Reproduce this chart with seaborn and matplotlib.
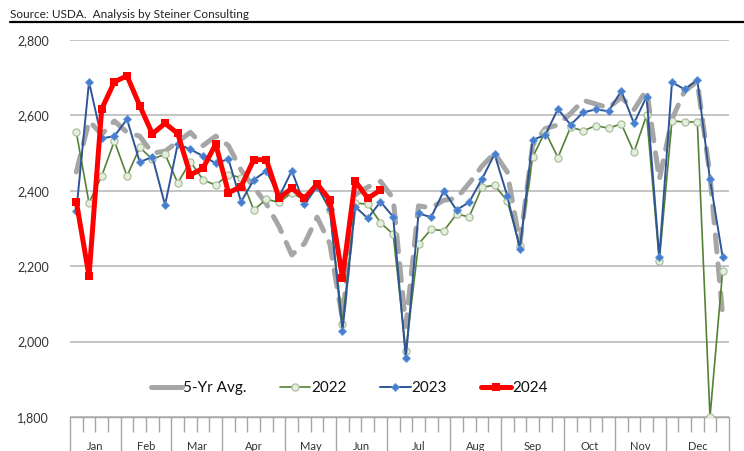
import numpy as np
import pandas as pd
import matplotlib
matplotlib.use("Agg")
import matplotlib.pyplot as plt
from matplotlib.lines import Line2D
import seaborn as sns

# ---------------- data ----------------
months = ["Jan", "Feb", "Mar", "Apr", "May", "Jun", "Jul", "Aug", "Sep", "Oct", "Nov", "Dec"]
weeks_per_month = [4, 4, 4, 5, 4, 4, 5, 4, 5, 4, 4, 5]

avg5 = [2450, 2585, 2550, 2585, 2555, 2545, 2500, 2505, 2530, 2555, 2520, 2545, 2520,
        2455, 2410, 2365, 2305, 2230, 2260, 2330, 2260, 2060, 2390, 2410, 2425, 2380,
        2040, 2360, 2355, 2375, 2380, 2420, 2465, 2500, 2450, 2260, 2520, 2565, 2575,
        2605, 2640, 2630, 2620, 2648, 2615, 2668, 2430, 2590, 2665, 2690, 2440, 2070]

y2022 = [2555, 2368, 2439, 2532, 2439, 2515, 2484, 2497, 2421, 2477, 2429, 2415, 2443,
         2435, 2349, 2378, 2369, 2395, 2375, 2413, 2349, 2048, 2367, 2365, 2315, 2285,
         1976, 2259, 2298, 2294, 2338, 2331, 2409, 2415, 2373, 2254, 2489, 2557, 2488,
         2569, 2559, 2573, 2566, 2578, 2502, 2601, 2214, 2586, 2582, 2583, 1800, 2188]

y2023 = [2347, 2689, 2539, 2545, 2590, 2476, 2490, 2362, 2524, 2510, 2492, 2473, 2484,
         2371, 2429, 2453, 2384, 2453, 2364, 2411, 2353, 2027, 2358, 2327, 2371, 2331,
         1956, 2340, 2330, 2400, 2349, 2370, 2431, 2497, 2387, 2246, 2535, 2548, 2617,
         2575, 2608, 2616, 2611, 2665, 2579, 2650, 2224, 2688, 2669, 2694, 2430, 2224]

y2024 = [2371, 2174, 2617, 2689, 2705, 2626, 2551, 2579, 2552, 2442, 2460, 2524, 2395,
         2411, 2483, 2482, 2380, 2407, 2380, 2418, 2376, 2170, 2426, 2380, 2402]

y_ticks = [1800, 2000, 2200, 2400, 2600, 2800]
y_tick_labels = ["1,800", "2,000", "2,200", "2,400", "2,600", "2,800"]

n_weeks = sum(weeks_per_month)
week_pos = np.arange(n_weeks) + 0.5

df = pd.DataFrame({"week": week_pos, "avg5": avg5, "y2022": y2022, "y2023": y2023})
df24 = pd.DataFrame({"week": week_pos[:len(y2024)], "y2024": y2024})

# ---------------- style ----------------
sns.set_theme(style="white")
plt.rcParams["font.family"] = ["Lato", "DejaVu Sans"]

fig = plt.figure(figsize=(7.44, 4.51), dpi=100)
ax = fig.add_axes([70 / 744, 1 - 417 / 451, 659 / 744, 377 / 451])

sns.lineplot(data=df, x="week", y="avg5", ax=ax, color="#A6A6A6", linewidth=3.6,
             linestyle=(0, (3.4, 2.4)), dash_capstyle="round", label="5-Yr Avg.", zorder=2)
sns.lineplot(data=df, x="week", y="y2022", ax=ax, color="#548235", linewidth=1.2,
             marker="o", markersize=5.2, markerfacecolor="#E2EFDA",
             markeredgecolor="#A8B89A", markeredgewidth=0.8, label="2022", zorder=3)
sns.lineplot(data=df, x="week", y="y2023", ax=ax, color="#2F5597", linewidth=1.4,
             marker="D", markersize=3.6, markerfacecolor="#4A7BD0",
             markeredgecolor="#5B9BD5", markeredgewidth=0.6, label="2023", zorder=4)
sns.lineplot(data=df24, x="week", y="y2024", ax=ax, color="#FF0000", linewidth=3.6,
             marker="s", markersize=6.3, markeredgewidth=0, label="2024", zorder=5)

ax.set_xlim(0, n_weeks)
ax.set_ylim(1800, 2800)
ax.set_xlabel("")
ax.set_ylabel("")

# y axis
ax.set_yticks(y_ticks)
ax.set_yticklabels(y_tick_labels, fontsize=9, color="#333333")
ax.tick_params(axis="y", length=0, pad=15)
ax.yaxis.grid(True, color="#B4B4B4", linewidth=1.1)
ax.set_axisbelow(True)

for s in ["left", "right", "top"]:
    ax.spines[s].set_visible(False)
ax.spines["bottom"].set_color("#A6A6A6")
ax.spines["bottom"].set_linewidth(1.0)
ax.spines["bottom"].set_zorder(1)

# x axis: weekly minor ticks, month boundary major ticks
bounds = np.concatenate([[0], np.cumsum(weeks_per_month)])
ax.set_xticks(bounds)
ax.set_xticklabels([])
ax.set_xticks(np.arange(n_weeks + 1), minor=True)
ax.tick_params(axis="x", which="major", direction="out", length=24.5, width=1.0,
               color="#A6A6A6", bottom=True)
ax.tick_params(axis="x", which="minor", direction="out", length=10.5, width=1.0,
               color="#A6A6A6", bottom=True)
centers = (bounds[:-1] + bounds[1:]) / 2
for c, m in zip(centers, months):
    ax.text(c, -0.077, m, transform=ax.get_xaxis_transform(), ha="center", va="center",
            fontsize=8, color="#333333")

# legend
leg = ax.legend(loc="center", bbox_to_anchor=(0.424, 0.077), ncol=4, frameon=False,
                fontsize=11, handlelength=2.0, columnspacing=2.2, handletextpad=0.05)
for t in leg.get_texts():
    t.set_color("#111111")
leg.legend_handles[0].set_linestyle("-")

# header
fig.text(10 / 744, 1 - 15 / 451, "Source: USDA.  Analysis by Steiner Consulting",
         fontsize=8.5, ha="left", va="center", color="#222222")
fig.add_artist(Line2D([10 / 744, 1.0], [1 - 22 / 451, 1 - 22 / 451], color="black",
                      linewidth=1.6))

fig.savefig("out.png", dpi=100)
